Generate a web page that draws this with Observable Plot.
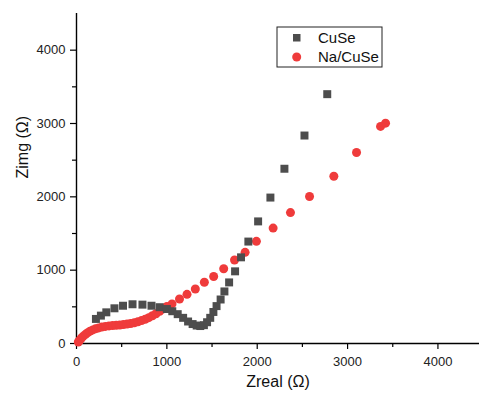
<!DOCTYPE html>
<html>
<head>
<meta charset="utf-8">
<script src="https://cdn.jsdelivr.net/npm/d3@7"></script>
<script src="https://cdn.jsdelivr.net/npm/@observablehq/plot@0.6"></script>
<style>
  html, body { margin: 0; padding: 0; background: #fff; }
  #chart { width: 479px; height: 396px; }
</style>
</head>
<body>
<div id="chart"></div>
<script>
// CuSe: [Zreal, Zimg]
const cuseZreal = [215,270,330,420,515,620,730,830,920,1000,1060,1120,1180,1235,1285,1330,1370,1410,1445,1480,1515,1550,1595,1637,1689,1755,1821,1902,2010,2146,2301,2523,2775];
const cuseZimg  = [335,380,425,480,515,535,530,515,495,470,440,400,350,300,265,245,238,250,290,350,430,510,600,710,833,984,1175,1390,1665,1990,2383,2836,3400];

// Na/CuSe: [Zreal, Zimg]
const nacuseZreal = [20,35,55,75,100,125,150,180,210,245,280,320,360,400,440,480,520,560,600,640,680,720,760,800,840,880,920,960,1000,1057,1140,1223,1315,1415,1518,1629,1749,1866,1991,2176,2368,2579,2848,3099,3365,3420];
const nacuseZimg  = [20,45,75,100,125,148,168,185,200,213,224,233,240,245,249,253,258,265,273,283,296,312,330,352,378,405,440,472,505,540,607,670,743,836,913,1020,1139,1243,1393,1574,1785,2004,2281,2605,2960,3005];

const xMajor = [0,1000,2000,3000,4000];
const xMinor = [500,1500,2500,3500];
const yMajor = [0,1000,2000,3000,4000];
const yMinor = [500,1500,2500,3500];

const seriesNames = ["CuSe", "Na/CuSe"];
const seriesColors = ["#4d4d4d", "#ef3b3b"];

const cuse = cuseZreal.map((x, i) => ({x, y: cuseZimg[i]}));
const nacuse = nacuseZreal.map((x, i) => ({x, y: nacuseZimg[i]}));

const font = "'Liberation Sans', Arial, sans-serif";

const plot = Plot.plot({
  width: 479,
  height: 396,
  marginLeft: 76,
  marginRight: 0,
  marginTop: 13,
  marginBottom: 53,
  style: {fontFamily: font, fontSize: "13px", color: "#222", background: "#fff"},
  x: {domain: [0, 4460]},
  y: {domain: [0, 4500]},
  marks: [
    Plot.axisX({ticks: xMinor, tickSize: 4, text: null, label: null, stroke: "#000", strokeWidth: 1.2}),
    Plot.axisY({ticks: yMinor, tickSize: 4, text: null, label: null, stroke: "#000", strokeWidth: 1.2}),
    Plot.axisX({ticks: xMajor, tickSize: 6, tickPadding: 7, tickFormat: d => String(d), label: null, stroke: "#000", strokeWidth: 1.2, fill: "#222", fontSize: 13}),
    Plot.axisY({ticks: yMajor, tickSize: 6, tickPadding: 5, tickFormat: d => String(d), label: null, stroke: "#000", strokeWidth: 1.2, fill: "#222", fontSize: 13}),
    Plot.ruleX([0], {stroke: "#000", strokeWidth: 1.4}),
    Plot.ruleY([0], {stroke: "#000", strokeWidth: 1.4}),
    Plot.dot(nacuse, {x: "x", y: "y", r: 4.5, fill: seriesColors[1], stroke: "none", symbol: "circle"}),
    Plot.dot(cuse, {x: "x", y: "y", r: 4.5, fill: seriesColors[0], stroke: "none", symbol: "square"}),
    Plot.text(["Zreal (Ω)"], {frameAnchor: "bottom", dy: 43, fontSize: 16, fill: "#111", fontFamily: font}),
    Plot.text(["Zimg (Ω)"], {frameAnchor: "left", dx: -54, rotate: -90, fontSize: 16, fill: "#111", fontFamily: font})
  ]
});

// Legend
const svg = d3.select(plot);
const lg = svg.append("g").attr("font-family", font).attr("font-size", 15).attr("text-anchor", "start");
lg.append("rect").attr("x", 277).attr("y", 27).attr("width", 105).attr("height", 40)
  .attr("fill", "#fff").attr("stroke", "#222").attr("stroke-width", 1);
lg.append("rect").attr("x", 293).attr("y", 34).attr("width", 7.5).attr("height", 7.5).attr("fill", seriesColors[0]);
lg.append("circle").attr("cx", 296.7).attr("cy", 57).attr("r", 4.5).attr("fill", seriesColors[1]);
lg.append("text").attr("x", 318).attr("y", 38).attr("dy", "0.35em").attr("text-anchor", "start").attr("fill", "#111").text(seriesNames[0]);
lg.append("text").attr("x", 318).attr("y", 57).attr("dy", "0.35em").attr("text-anchor", "start").attr("fill", "#111").text(seriesNames[1]);

document.getElementById("chart").appendChild(plot);
</script>
</body>
</html>
